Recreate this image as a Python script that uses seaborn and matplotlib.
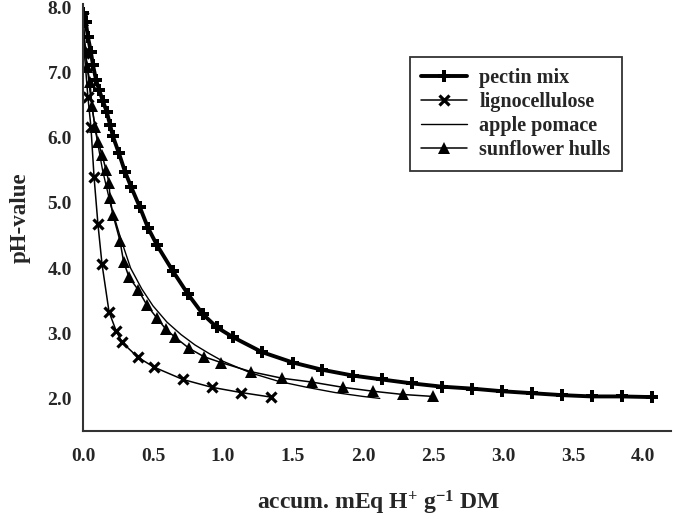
import pandas as pd
import seaborn as sns
import matplotlib
matplotlib.use('Agg')
import matplotlib.pyplot as plt

# DATA
pectin_x = [0.0, 0.02, 0.036, 0.057, 0.071, 0.093, 0.114, 0.143, 0.171, 0.193, 0.214, 0.257, 0.30,
            0.343, 0.407, 0.464, 0.529, 0.643, 0.75, 0.857, 0.957, 1.071, 1.279, 1.50, 1.707, 1.929,
            2.136, 2.35, 2.564, 2.779, 2.993, 3.207, 3.421, 3.636, 3.85, 4.064]
pectin_y = [7.92, 7.77, 7.54, 7.31, 7.12, 6.89, 6.74, 6.56, 6.39, 6.20, 6.02, 5.76, 5.48,
            5.25, 4.93, 4.62, 4.35, 3.95, 3.60, 3.29, 3.09, 2.94, 2.71, 2.55, 2.44, 2.35,
            2.29, 2.23, 2.18, 2.15, 2.11, 2.08, 2.05, 2.03, 2.03, 2.02]

ligno_x = [0.0, 0.01, 0.035, 0.057, 0.079, 0.107, 0.136, 0.186, 0.236, 0.279, 0.393, 0.507,
           0.714, 0.921, 1.129, 1.343]
ligno_y = [7.85, 7.30, 6.63, 6.16, 5.40, 4.67, 4.06, 3.33, 3.04, 2.86, 2.63, 2.48,
           2.29, 2.17, 2.09, 2.02]

apple_x = [0.0, 0.02, 0.05, 0.09, 0.14, 0.2, 0.27, 0.34, 0.42, 0.5, 0.6, 0.7, 0.8, 0.9, 1.0,
           1.2, 1.4, 1.6, 1.8, 2.0, 2.12]
apple_y = [7.85, 7.30, 6.70, 6.10, 5.50, 4.95, 4.45, 4.00, 3.68, 3.42, 3.17, 2.98, 2.82, 2.69, 2.57,
           2.39, 2.26, 2.17, 2.09, 2.03, 2.00]

sun_x = [0.0, 0.014, 0.029, 0.05, 0.064, 0.086, 0.107, 0.136, 0.164, 0.186, 0.193, 0.214, 0.264,
         0.29, 0.329, 0.393, 0.457, 0.529, 0.593, 0.657, 0.757, 0.864, 0.986, 1.20, 1.421, 1.636,
         1.857, 2.071, 2.286, 2.50]
sun_y = [7.80, 7.35, 7.09, 6.86, 6.48, 6.17, 5.94, 5.74, 5.51, 5.31, 5.07, 4.82, 4.42,
         4.10, 3.86, 3.67, 3.43, 3.23, 3.06, 2.94, 2.77, 2.64, 2.55, 2.41, 2.31, 2.25,
         2.17, 2.11, 2.06, 2.03]

x_ticks = [0.0, 0.5, 1.0, 1.5, 2.0, 2.5, 3.0, 3.5, 4.0]
y_ticks = [2.0, 3.0, 4.0, 5.0, 6.0, 7.0, 8.0]

sns.set_style('white')
plt.rcParams['font.family'] = ['Liberation Serif', 'DejaVu Serif']
plt.rcParams['font.weight'] = 'bold'
plt.rcParams['mathtext.fontset'] = 'custom'
plt.rcParams['mathtext.rm'] = 'Liberation Serif:bold'
plt.rcParams['mathtext.default'] = 'rm'

fig = plt.figure(figsize=(6.73, 5.19), dpi=100)
ax = fig.add_axes([0.1233, 0.1696, 0.8737, 0.8224])

sns.lineplot(x=pectin_x, y=pectin_y, ax=ax, sort=False, estimator=None, color='black', lw=2.8,
             marker='P', markersize=8, markeredgewidth=0, markerfacecolor='black',
             label='pectin mix')
sns.lineplot(x=ligno_x, y=ligno_y, ax=ax, sort=False, estimator=None, color='black', lw=1.1,
             marker='x', markersize=7, markeredgewidth=2.3, markeredgecolor='black',
             label='lignocellulose')
sns.lineplot(x=apple_x, y=apple_y, ax=ax, sort=False, estimator=None, color='black', lw=1.0,
             label='apple pomace')
sns.lineplot(x=sun_x, y=sun_y, ax=ax, sort=False, estimator=None, color='black', lw=1.1,
             marker='^', markersize=9, markeredgewidth=0, markerfacecolor='black',
             label='sunflower hulls')

ax.set_xlim(0, 4.2)
ax.set_ylim(1.5, 8.05)
ax.set_xticks(x_ticks)
ax.set_xticklabels([f'{t:.1f}' for t in x_ticks])
ax.set_yticks(y_ticks)
ax.set_yticklabels([f'{t:.1f}' for t in y_ticks])
ax.tick_params(axis='both', length=0, labelsize=14)
ax.tick_params(axis='x', pad=12)
ax.tick_params(axis='y', pad=8)

for s in ['top', 'right']:
    ax.spines[s].set_visible(False)
for s in ['left', 'bottom']:
    ax.spines[s].set_color('#333333')
    ax.spines[s].set_linewidth(1.5)

ax.set_xlabel('accum. mEq H$^{+}$ g$^{-1}$ DM', fontsize=17, fontweight='bold', va='baseline')
ax.xaxis.set_label_coords(0.502, -0.184)
ax.set_ylabel('pH-value', fontsize=16.5, fontweight='bold', va='center')
ax.yaxis.set_label_coords(-0.106, 0.5)

leg = ax.legend(loc='upper left', bbox_to_anchor=(0.556, 0.876), frameon=True, fancybox=False,
                edgecolor='black', fontsize=14.5, handlelength=2.3, borderpad=0.55,
                labelspacing=0.2, handletextpad=0.6, borderaxespad=0)
leg.get_frame().set_linewidth(1.3)
for t in leg.get_texts():
    t.set_fontweight('bold')

fig.savefig('out.png', dpi=100)
